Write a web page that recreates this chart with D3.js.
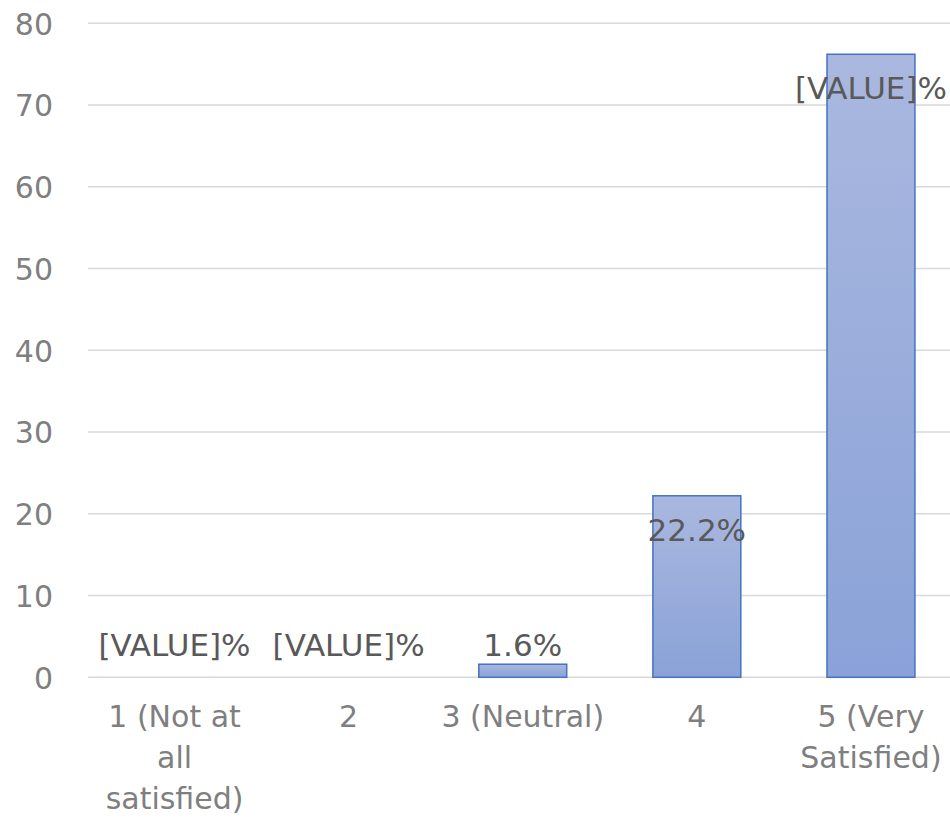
<!DOCTYPE html>
<html>
<head>
<meta charset="utf-8">
<script src="https://cdn.jsdelivr.net/npm/d3@7"></script>
<style>
  html, body { margin: 0; padding: 0; background: #ffffff; }
  svg { display: block; }
</style>
</head>
<body>
<svg id="chart" width="950" height="827"></svg>
<script>
// ---- data ----
const categories = ["1 (Not at all satisfied)", "2", "3 (Neutral)", "4", "5 (Very Satisfied)"];
const values = [0, 0, 1.6, 22.2, 76.2];
const dataLabels = ["[VALUE]%", "[VALUE]%", "1.6%", "22.2%", "[VALUE]%"];
const yTicks = [0, 10, 20, 30, 40, 50, 60, 70, 80];

// ---- layout ----
const W = 950, H = 827;
const plot = { left: 87.5, right: 958, top: 23.2, bottom: 677.3 };
const FONT = "'DejaVu Sans', sans-serif";

const svg = d3.select("#chart");

const defs = svg.append("defs");
const grad = defs.append("linearGradient")
  .attr("id", "barGrad").attr("x1", 0).attr("y1", 0).attr("x2", 0).attr("y2", 1);
grad.append("stop").attr("offset", "0%").attr("stop-color", "#aab8df");
grad.append("stop").attr("offset", "100%").attr("stop-color", "#8aa2d8");

const x = d3.scaleBand()
  .domain(categories)
  .range([plot.left, plot.right])
  .paddingInner(0.495)
  .paddingOuter(0.2475);

const y = d3.scaleLinear().domain([0, 80]).range([plot.bottom, plot.top]);

// gridlines
svg.append("g")
  .selectAll("line")
  .data(yTicks)
  .join("line")
  .attr("x1", 88).attr("x2", W)
  .attr("y1", d => y(d)).attr("y2", d => y(d))
  .attr("stroke", "#d9d9d9")
  .attr("stroke-width", 1.5);

// y axis labels
const yAxis = d3.axisLeft(y).tickValues(yTicks).tickSize(0).tickPadding(0).tickFormat(d3.format("d"));
const yg = svg.append("g").attr("transform", "translate(53,0)").call(yAxis);
yg.select(".domain").remove();
yg.selectAll("text")
  .attr("font-family", FONT)
  .attr("font-size", 30)
  .attr("fill", "#7f7f7f")
  .attr("dy", "0.36em");

// bars
svg.append("g")
  .selectAll("rect")
  .data(values)
  .join("rect")
  .attr("x", (d, i) => x(categories[i]))
  .attr("width", x.bandwidth())
  .attr("y", d => y(d))
  .attr("height", d => y(0) - y(d))
  .attr("fill", "url(#barGrad)")
  .attr("stroke", d => d > 0 ? "#4472c4" : "none")
  .attr("stroke-width", 1.5);

// data labels
svg.append("g")
  .selectAll("text")
  .data(values)
  .join("text")
  .attr("x", (d, i) => x(categories[i]) + x.bandwidth() / 2)
  .attr("y", d => d >= 10 ? y(d) + 34 : y(0) - 32)
  .attr("dy", "0.36em")
  .attr("text-anchor", "middle")
  .attr("font-family", FONT)
  .attr("font-size", 31)
  .attr("fill", "#595959")
  .text((d, i) => dataLabels[i]);

// x axis category labels (wrapped)
const xAxis = d3.axisBottom(x).tickSize(0).tickPadding(0);
const xg = svg.append("g").attr("transform", `translate(0,${plot.bottom})`).call(xAxis);
xg.select(".domain").remove();
xg.selectAll("text")
  .attr("font-family", FONT)
  .attr("font-size", 30)
  .attr("fill", "#7f7f7f")
  .attr("y", 0)
  .attr("dy", 0)
  .each(function() { wrap(d3.select(this), x.step() * 0.95); });

function wrap(text, width) {
  const words = text.text().split(/\s+/);
  text.text(null);
  let line = [];
  const lines = [];
  const probe = text.append("tspan");
  words.forEach(w => {
    line.push(w);
    probe.text(line.join(" "));
    if (probe.node().getComputedTextLength() > width && line.length > 1) {
      line.pop();
      lines.push(line.join(" "));
      line = [w];
    }
  });
  lines.push(line.join(" "));
  probe.remove();
  lines.forEach((l, i) => {
    text.append("tspan")
      .attr("x", 0)
      .attr("y", 50 + i * 41)
      .text(l);
  });
}
</script>
</body>
</html>
